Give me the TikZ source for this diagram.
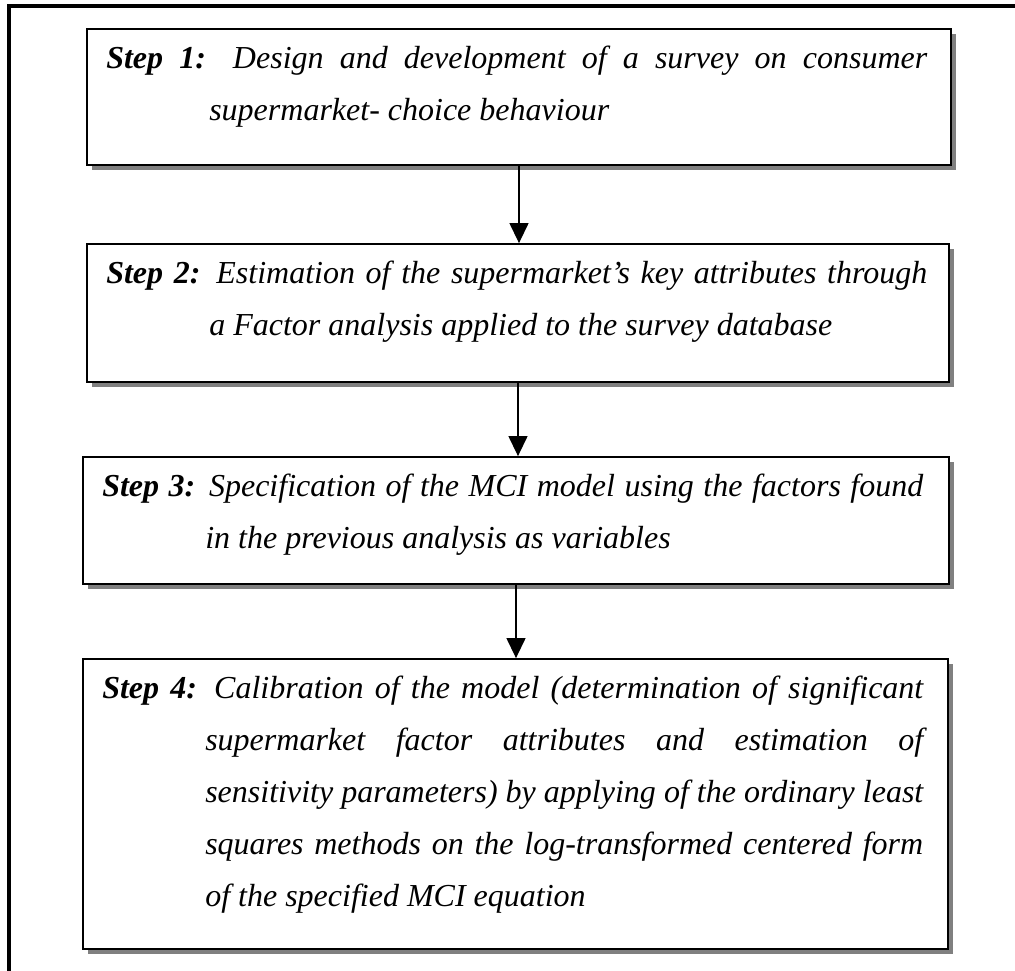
\documentclass[tikz,border=0pt]{standalone}
\usepackage{fontspec}
\setmainfont{Liberation Serif}
\usetikzlibrary{arrows.meta,shadows}

% first line full width, the lines after "Step n:" indented
\newcommand{\steppar}[1]{\rule{0pt}{25pt}\parshape 2 0pt 821pt 103pt 718pt\relax #1\par}

\tikzset{
  stepbox/.style={draw, line width=1.8pt, fill=white, inner sep=0pt,
    drop shadow={shadow xshift=5pt, shadow yshift=-5pt, fill=black!50, opacity=1}},
  steptext/.style={inner sep=0pt, text width=821pt, align=justify, anchor=north west,
    font=\fontsize{32}{52}\selectfont\itshape},
  link/.style={line width=1.3pt, -{Triangle[width=19pt,length=20pt]}}
}

\begin{document}
\begin{tikzpicture}[x=1pt,y=-1pt]
    \useasboundingbox (0,0) rectangle (1015,971);
    \draw[line width=3.2pt] (9,971) -- (9,6) -- (1015,6);

    % boxes
    \node[stepbox, minimum width=864pt, minimum height=136pt] (step1) at (519,97) {};
    \node[stepbox, minimum width=862pt, minimum height=138pt] (step2) at (518,313) {};
    \node[stepbox, minimum width=866pt, minimum height=127pt] (step3) at (516,520.5) {};
    \node[stepbox, minimum width=865pt, minimum height=290pt] (step4) at (515.5,804) {};

    % texts
    \node[steptext] (text1) at ([xshift=20pt,yshift=-15pt]step1.north west)
        {\steppar{\textbf{Step 1:} Design and development of a survey on consumer\linebreak supermarket- choice behaviour}};
    \node[steptext] (text2) at ([xshift=20pt,yshift=-15pt]step2.north west)
        {\steppar{\textbf{Step 2:} Estimation of the supermarket’s key attributes through\linebreak a Factor analysis applied to the survey database}};
    \node[steptext] (text3) at ([xshift=20pt,yshift=-15pt]step3.north west)
        {\steppar{\textbf{Step 3:} Specification of the MCI model using the factors found\linebreak in the previous analysis as variables}};
    \node[steptext] (text4) at ([xshift=20pt,yshift=-15pt]step4.north west)
        {\steppar{\textbf{Step 4:} Calibration of the model (determination of significant\linebreak supermarket factor attributes and estimation of\linebreak sensitivity parameters) by applying of the ordinary least\linebreak squares methods on the log-transformed centered form\linebreak of the specified MCI equation}};

    % arrows
    \draw[link] (step1.south) -- (step1.south |- step2.north);
    \draw[link] (step2.south) -- (step2.south |- step3.north);
    \draw[link] (step3.south) -- (step3.south |- step4.north);
\end{tikzpicture}
\end{document}
